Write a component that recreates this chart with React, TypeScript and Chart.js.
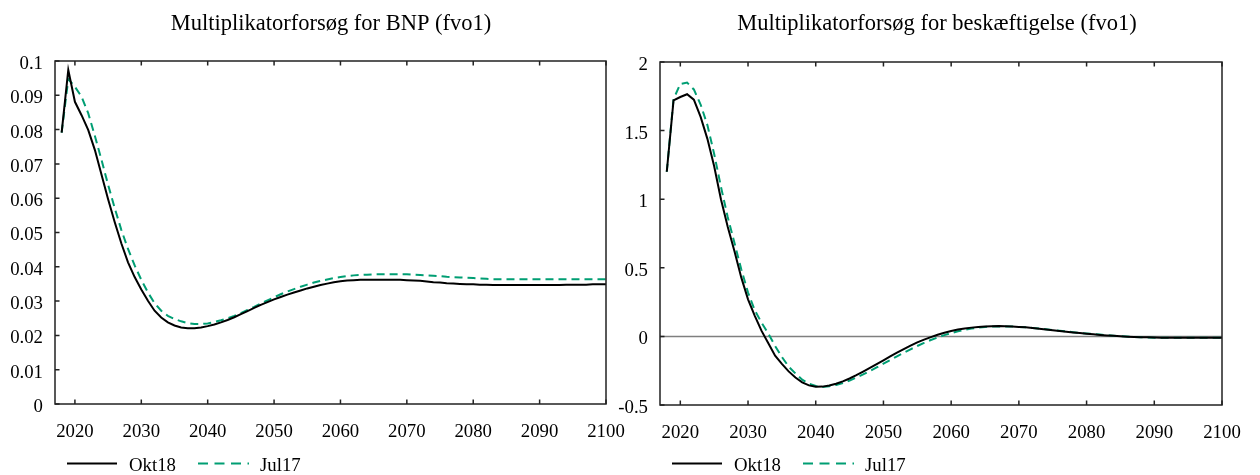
import React, { useEffect, useRef } from 'react';
import { Chart, registerables } from 'chart.js';

Chart.register(...registerables);

const FONT = '"Liberation Serif", "Times New Roman", serif';
const BLACK = '#000000';
const GREEN = '#009e73';

const YEARS = Array.from({ length: 83 }, (_, i) => 2018 + i);

const X_TICKS = [2020, 2030, 2040, 2050, 2060, 2070, 2080, 2090, 2100];
const X_LABELS = ['2020', '2030', '2040', '2050', '2060', '2070', '2080', '2090', '2100'];

const BNP_Y_TICKS = [0, 0.01, 0.02, 0.03, 0.04, 0.05, 0.06, 0.07, 0.08, 0.09, 0.1];
const BNP_Y_LABELS = ['0', '0.01', '0.02', '0.03', '0.04', '0.05', '0.06', '0.07', '0.08', '0.09', '0.1'];

const EMP_Y_TICKS = [-0.5, 0, 0.5, 1, 1.5, 2];
const EMP_Y_LABELS = ['-0.5', '0', '0.5', '1', '1.5', '2'];

const SERIES_NAMES = ['Okt18', 'Jul17'];

const BNP_OKT18 = [
  0.0791, 0.0974, 0.0881, 0.0842, 0.0799, 0.0741, 0.0669, 0.0597, 0.0530, 0.0468,
  0.0413, 0.0370, 0.0334, 0.0301, 0.0272, 0.0252, 0.0238, 0.0229, 0.0223, 0.0221,
  0.0221, 0.0223, 0.0227, 0.0232, 0.0238, 0.0245, 0.0253, 0.0262, 0.0271, 0.0280,
  0.0289, 0.0297, 0.0305, 0.0312, 0.0319, 0.0325, 0.0331, 0.0337, 0.0342, 0.0347,
  0.0351, 0.0355, 0.0358, 0.0360, 0.0361, 0.0362, 0.0362, 0.0362, 0.0362, 0.0362,
  0.0362, 0.0362, 0.0361, 0.0360, 0.0359, 0.0357, 0.0355, 0.0354, 0.0352, 0.0351,
  0.0350, 0.0349, 0.0349, 0.0348, 0.0348, 0.0347, 0.0347, 0.0347, 0.0347, 0.0347,
  0.0347, 0.0347, 0.0347, 0.0347, 0.0347, 0.0347, 0.0348, 0.0348, 0.0348, 0.0348,
  0.0349, 0.0349, 0.0349,
];

const BNP_JUL17 = [
  0.0791, 0.0947, 0.0925, 0.0896, 0.0848, 0.0782, 0.0712, 0.0639, 0.0571, 0.0507,
  0.0452, 0.0404, 0.0362, 0.0325, 0.0294, 0.0272, 0.0257, 0.0248, 0.0241, 0.0236,
  0.0233, 0.0233, 0.0235, 0.0239, 0.0244, 0.0250, 0.0257, 0.0265, 0.0274, 0.0283,
  0.0293, 0.0302, 0.0311, 0.0320, 0.0328, 0.0335, 0.0342, 0.0348, 0.0354, 0.0359,
  0.0363, 0.0367, 0.0370, 0.0373, 0.0375, 0.0376, 0.0377, 0.0378, 0.0378, 0.0378,
  0.0378, 0.0378, 0.0378, 0.0377, 0.0376, 0.0375, 0.0374, 0.0373, 0.0371, 0.0370,
  0.0369, 0.0368, 0.0367, 0.0366, 0.0365, 0.0364, 0.0364, 0.0364, 0.0364, 0.0364,
  0.0364, 0.0364, 0.0364, 0.0364, 0.0364, 0.0364, 0.0364, 0.0364, 0.0364, 0.0364,
  0.0364, 0.0364, 0.0364,
];

const EMP_OKT18 = [
  1.200, 1.720, 1.745, 1.765, 1.725, 1.600, 1.440, 1.240, 1.000, 0.800,
  0.620, 0.430, 0.270, 0.150, 0.040, -0.050, -0.140, -0.200, -0.255, -0.300,
  -0.335, -0.357, -0.367, -0.366, -0.358, -0.345, -0.328, -0.307, -0.283, -0.257,
  -0.230, -0.202, -0.174, -0.146, -0.118, -0.092, -0.067, -0.044, -0.023, -0.005,
  0.012, 0.027, 0.040, 0.050, 0.058, 0.064, 0.069, 0.072, 0.074, 0.075,
  0.074, 0.072, 0.069, 0.066, 0.061, 0.056, 0.050, 0.045, 0.040, 0.034,
  0.029, 0.024, 0.019, 0.015, 0.011, 0.007, 0.004, 0.001, -0.002, -0.004,
  -0.006, -0.007, -0.008, -0.009, -0.010, -0.010, -0.010, -0.010, -0.010, -0.010,
  -0.010, -0.010, -0.010,
];

const EMP_JUL17 = [
  1.200, 1.730, 1.840, 1.850, 1.800, 1.690, 1.540, 1.330, 1.090, 0.870,
  0.680, 0.490, 0.320, 0.190, 0.100, 0.020, -0.070, -0.150, -0.220, -0.270,
  -0.315, -0.345, -0.362, -0.368, -0.364, -0.354, -0.340, -0.322, -0.300, -0.277,
  -0.252, -0.226, -0.199, -0.172, -0.145, -0.119, -0.094, -0.070, -0.047, -0.026,
  -0.008, 0.009, 0.024, 0.037, 0.048, 0.057, 0.064, 0.069, 0.072, 0.073,
  0.073, 0.072, 0.069, 0.066, 0.062, 0.057, 0.052, 0.047, 0.042, 0.037,
  0.031, 0.026, 0.021, 0.017, 0.013, 0.009, 0.005, 0.002, -0.001, -0.004,
  -0.006, -0.008, -0.009, -0.010, -0.010, -0.010, -0.010, -0.010, -0.010, -0.010,
  -0.010, -0.010, -0.010,
];

type Panel = {
  canvasLeft: number;
  canvasWidth: number;
  area: { left: number; right: number; top: number; bottom: number };
  title: string;
  titleX: number;
  yMin: number;
  yMax: number;
  yTicks: number[];
  yLabels: string[];
  okt: number[];
  jul: number[];
  zeroLine: boolean;
  legendX: number;
};

const H = 475;

const PANELS: Panel[] = [
  {
    canvasLeft: 0,
    canvasWidth: 630,
    area: { left: 55, right: 606, top: 61, bottom: 404 },
    title: 'Multiplikatorforsøg for BNP (fvo1)',
    titleX: 331,
    yMin: 0,
    yMax: 0.1,
    yTicks: BNP_Y_TICKS,
    yLabels: BNP_Y_LABELS,
    okt: BNP_OKT18,
    jul: BNP_JUL17,
    zeroLine: false,
    legendX: 67,
  },
  {
    canvasLeft: 600,
    canvasWidth: 660,
    area: { left: 660, right: 1222, top: 62, bottom: 405 },
    title: 'Multiplikatorforsøg for beskæftigelse (fvo1)',
    titleX: 937,
    yMin: -0.5,
    yMax: 2,
    yTicks: EMP_Y_TICKS,
    yLabels: EMP_Y_LABELS,
    okt: EMP_OKT18,
    jul: EMP_JUL17,
    zeroLine: true,
    legendX: 672,
  },
];

function ChartPanel({ p }: { p: Panel }) {
  const ref = useRef<HTMLCanvasElement | null>(null);

  useEffect(() => {
    if (!ref.current) return;
    const off = p.canvasLeft;
    const yAxisWidth = p.area.left - off;
    const rightPad = off + p.canvasWidth - p.area.right;
    const xAxisHeight = H - p.area.bottom;

    const decor = {
      id: 'decor',
      beforeDatasetsDraw(chart: any) {
        if (!p.zeroLine) return;
        const { ctx, chartArea: a, scales } = chart;
        const y = scales.y.getPixelForValue(0);
        ctx.save();
        ctx.strokeStyle = '#7f7f7f';
        ctx.lineWidth = 1.5;
        ctx.beginPath();
        ctx.moveTo(a.left, y);
        ctx.lineTo(a.right, y);
        ctx.stroke();
        ctx.restore();
      },
      afterDraw(chart: any) {
        const { ctx, chartArea: a, scales } = chart;
        ctx.save();
        ctx.strokeStyle = '#222222';
        ctx.lineWidth = 1.5;
        ctx.strokeRect(a.left, a.top, a.right - a.left, a.bottom - a.top);
        const tl = 4.5;
        ctx.beginPath();
        X_TICKS.forEach((v) => {
          const x = scales.x.getPixelForValue(v);
          ctx.moveTo(x, a.bottom);
          ctx.lineTo(x, a.bottom - tl);
          ctx.moveTo(x, a.top);
          ctx.lineTo(x, a.top + tl);
        });
        p.yTicks.forEach((v) => {
          const y = scales.y.getPixelForValue(v);
          ctx.moveTo(a.left, y);
          ctx.lineTo(a.left + tl, y);
        });
        ctx.stroke();

        // title
        ctx.fillStyle = '#000';
        ctx.font = `22.5px ${FONT}`;
        ctx.textAlign = 'center';
        ctx.textBaseline = 'alphabetic';
        ctx.fillText(p.title, p.titleX - off, 30);

        // legend
        const lx = p.legendX - off;
        const ly = 463.5;
        ctx.font = `18.8px ${FONT}`;
        ctx.textAlign = 'left';
        ctx.lineWidth = 2;
        ctx.strokeStyle = BLACK;
        ctx.setLineDash([]);
        ctx.beginPath();
        ctx.moveTo(lx, ly);
        ctx.lineTo(lx + 50, ly);
        ctx.stroke();
        ctx.fillText(SERIES_NAMES[0], lx + 62, 471);
        ctx.strokeStyle = GREEN;
        ctx.setLineDash([10, 6.5]);
        ctx.beginPath();
        ctx.moveTo(lx + 131, ly);
        ctx.lineTo(lx + 182, ly);
        ctx.stroke();
        ctx.setLineDash([]);
        ctx.fillText(SERIES_NAMES[1], lx + 193, 471);
        ctx.restore();
      },
    };

    const chart = new Chart(ref.current, {
      type: 'line',
      data: {
        labels: YEARS,
        datasets: [
          {
            label: SERIES_NAMES[0],
            data: YEARS.map((yr, i) => ({ x: yr, y: p.okt[i] })),
            borderColor: BLACK,
            borderWidth: 2,
            pointRadius: 0,
            tension: 0,
            fill: false,
          },
          {
            label: SERIES_NAMES[1],
            data: YEARS.map((yr, i) => ({ x: yr, y: p.jul[i] })),
            borderColor: GREEN,
            borderWidth: 2,
            borderDash: [8, 5],
            pointRadius: 0,
            tension: 0,
            fill: false,
          },
        ],
      },
      options: {
        animation: false,
        responsive: false,
        maintainAspectRatio: false,
        devicePixelRatio: 1,
        layout: { padding: { left: 0, right: rightPad, top: p.area.top, bottom: 0 } },
        plugins: { legend: { display: false }, title: { display: false }, tooltip: { enabled: false } },
        scales: {
          x: {
            type: 'linear',
            min: 2017,
            max: 2100,
            grid: { display: false, drawTicks: false },
            border: { display: false },
            afterBuildTicks: (axis: any) => {
              axis.ticks = X_TICKS.map((v) => ({ value: v }));
            },
            afterFit: (axis: any) => {
              axis.height = xAxisHeight;
              axis.paddingLeft = 0;
              axis.paddingRight = 0;
            },
            ticks: {
              autoSkip: false,
              maxRotation: 0,
              padding: 17,
              color: '#000',
              font: { family: FONT, size: 18.8 },
              callback: (_v: any, i: number) => X_LABELS[i],
            },
          },
          y: {
            type: 'linear',
            min: p.yMin,
            max: p.yMax,
            grid: { display: false, drawTicks: false },
            border: { display: false },
            afterBuildTicks: (axis: any) => {
              axis.ticks = p.yTicks.map((v) => ({ value: v }));
            },
            afterFit: (axis: any) => {
              axis.width = yAxisWidth;
              axis.paddingTop = 0;
              axis.paddingBottom = 0;
            },
            ticks: {
              autoSkip: false,
              padding: 12,
              labelOffset: 3,
              color: '#000',
              font: { family: FONT, size: 18.8 },
              callback: (_v: any, i: number) => p.yLabels[i],
            },
          },
        },
      },
      plugins: [decor],
    } as any);

    return () => chart.destroy();
  }, [p]);

  return (
    <canvas
      ref={ref}
      width={p.canvasWidth}
      height={H}
      style={{ position: 'absolute', left: p.canvasLeft, top: 0, width: p.canvasWidth, height: H }}
    />
  );
}

export default function App() {
  return (
    <div style={{ position: 'absolute', left: 0, top: 0, width: 1260, height: H, background: '#fff' }}>
      {PANELS.map((p, i) => (
        <ChartPanel key={i} p={p} />
      ))}
    </div>
  );
}
